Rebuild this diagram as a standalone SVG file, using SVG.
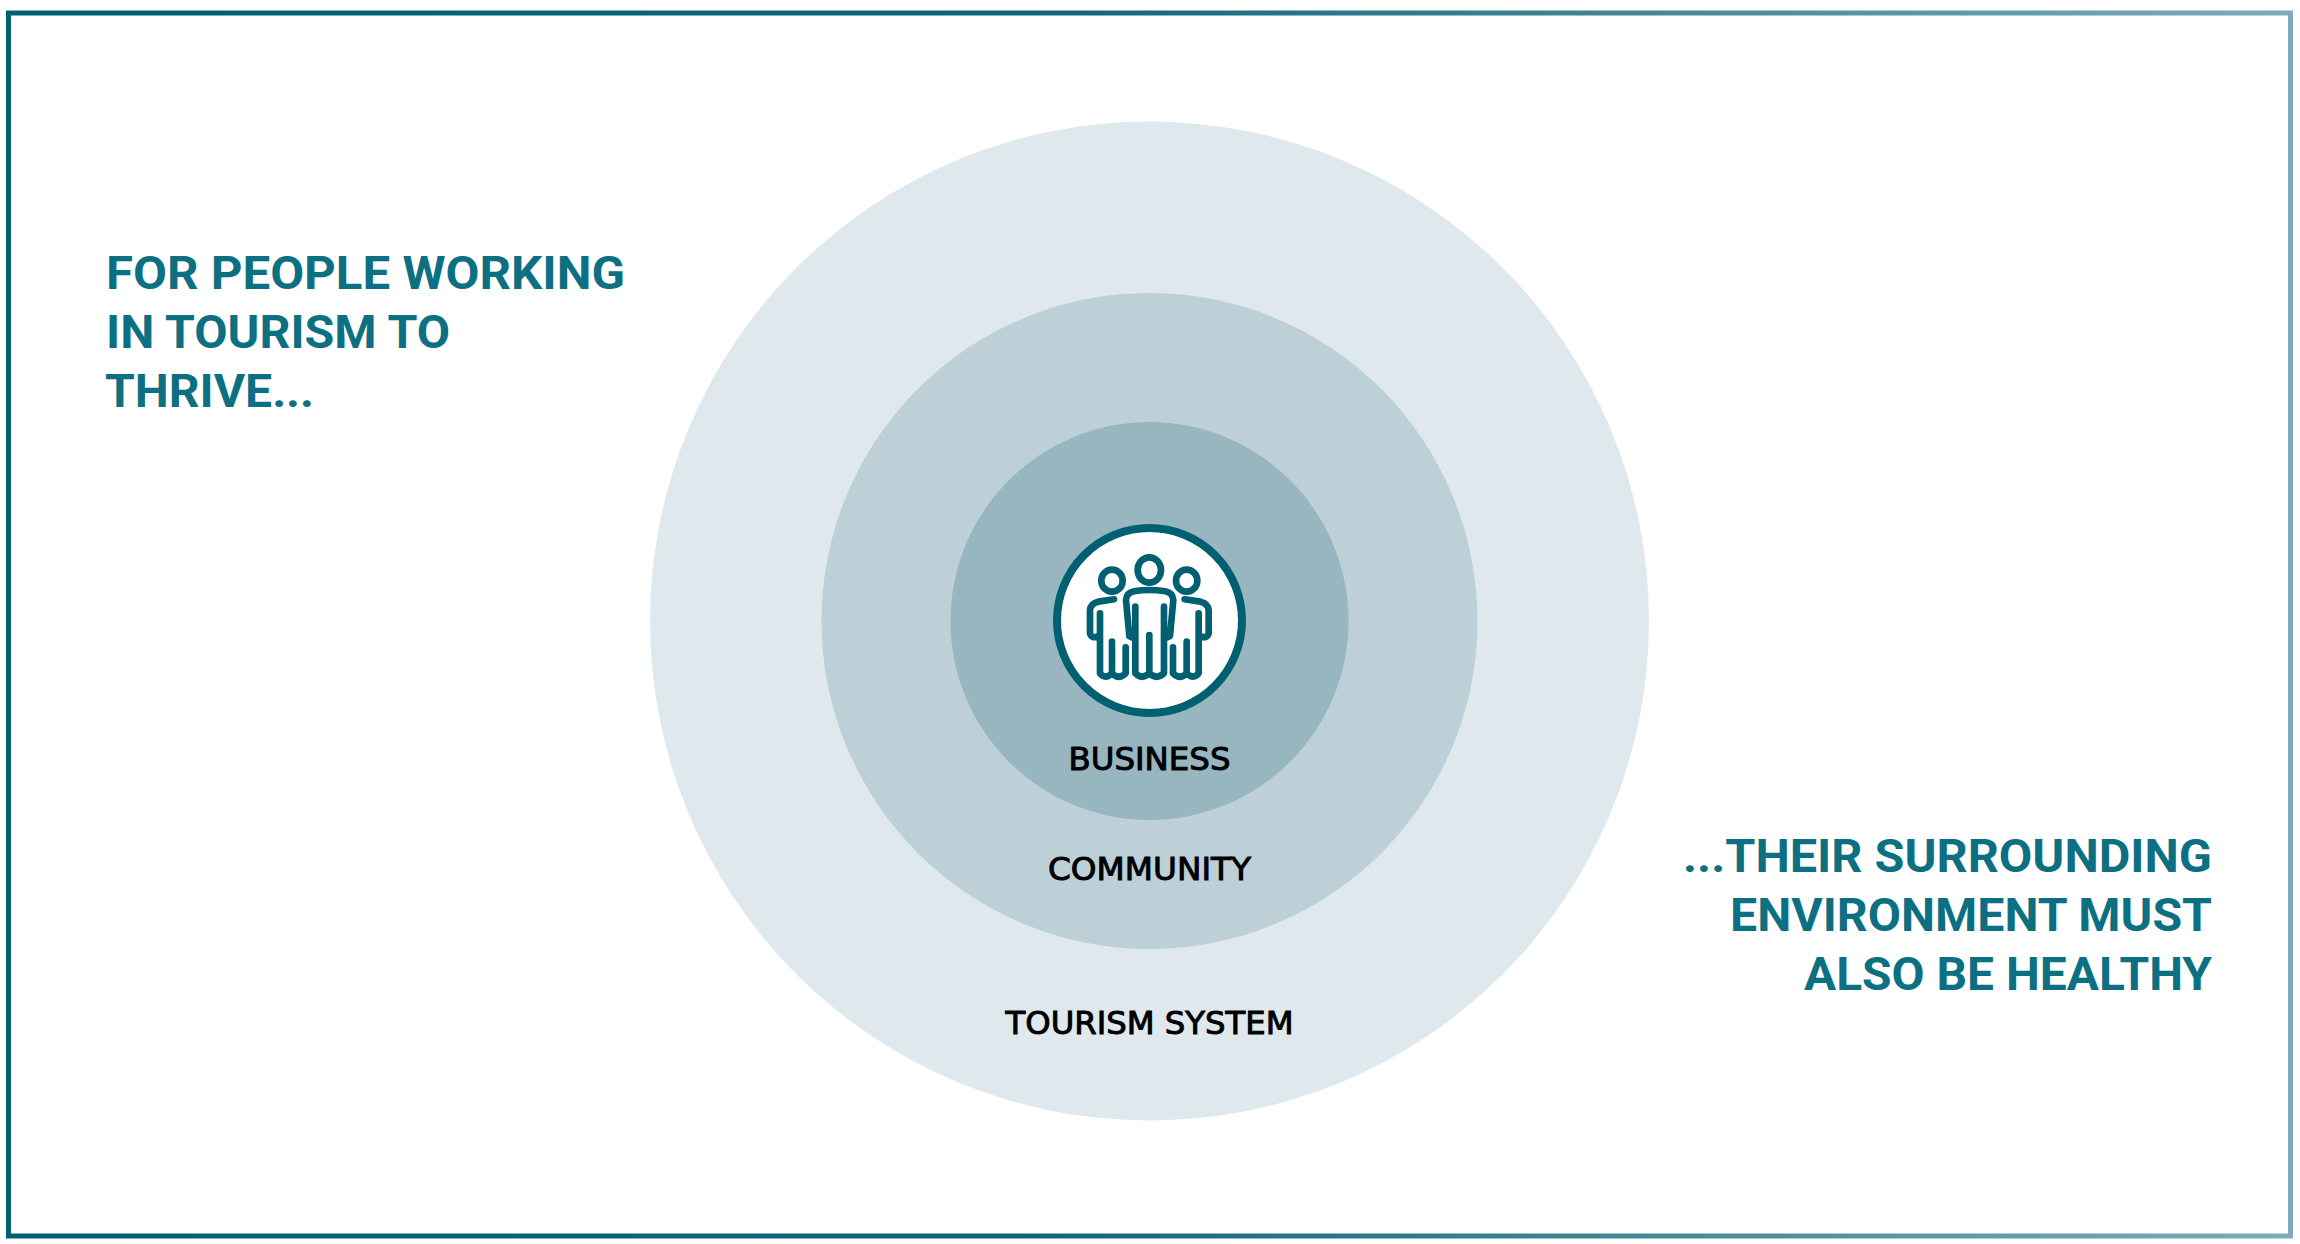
<svg xmlns="http://www.w3.org/2000/svg" width="2300" height="1244" viewBox="0 0 2300 1244">
<style>
.h{font-family:"Roboto","Liberation Sans",sans-serif;font-weight:700;font-size:46px;fill:#0d7082}
.l{font-family:"DejaVu Sans",sans-serif;font-weight:400;font-size:32px;fill:#000;stroke:#000;stroke-width:1px;text-anchor:middle}
.i{fill:none;stroke:#005f70;stroke-width:20;stroke-linecap:round;stroke-linejoin:round}
</style>
<defs>
<linearGradient id="bg" x1="0" y1="0" x2="1" y2="0"><stop offset="0" stop-color="#005f70"/><stop offset=".45" stop-color="#0f6677"/><stop offset="1" stop-color="#7bacb8"/></linearGradient>
<g id="side"><ellipse cx="246" cy="212" rx="32" ry="33"/><path d="M252 268L205 275Q182 280 180 300L180 370Q185 388 205 378M210 310L210 490Q225 510 246 490L246 395M246 490Q266 510 287 490L287 412"/></g>
</defs>
<rect width="2300" height="1244" fill="#fff"/>
<rect id="frame" x="8.5" y="13" width="2282" height="1223" fill="none" stroke="url(#bg)" stroke-width="5"/>
<g id="tourism-system"><circle cx="1149.5" cy="621" r="499.5" fill="#dfe9ed"/><text class="l" x="1149.5" y="1034" textLength="288" lengthAdjust="spacingAndGlyphs">TOURISM SYSTEM</text></g>
<g id="community"><circle cx="1149.5" cy="621" r="328" fill="#bdd0d7"/><text class="l" x="1149.5" y="880" textLength="203" lengthAdjust="spacingAndGlyphs">COMMUNITY</text></g>
<g id="business"><circle cx="1149.5" cy="621" r="199" fill="#97b6c0"/><text class="l" x="1149.5" y="770" textLength="162" lengthAdjust="spacingAndGlyphs">BUSINESS</text></g>
<g id="people"><circle cx="1149.5" cy="620.5" r="92.5" fill="#fff" stroke="#005f70" stroke-width="8"/>
<g class="i" transform="translate(1030 510) scale(.3333)">
<ellipse cx="358" cy="180" rx="35" ry="38"/>
<path d="M298 378L288 270Q290 248 312 244Q358 236 406 244Q428 248 430 270L420 378Q410 388 402 375M298 378Q308 388 316 372L316 290L316 490Q335 510 358 490L358 375M358 490Q380 510 402 490L402 290"/>
<use href="#side"/>
<use href="#side" transform="translate(716 0) scale(-1 1)"/>
</g></g>
<g id="left-text"><text class="h" x="106" y="289" textLength="519" lengthAdjust="spacingAndGlyphs">FOR PEOPLE WORKING</text><text class="h" x="106" y="348" textLength="344" lengthAdjust="spacingAndGlyphs">IN TOURISM TO</text><text class="h" x="105" y="407" textLength="209" lengthAdjust="spacingAndGlyphs">THRIVE...</text></g>
<g id="right-text"><text class="h" x="1683" y="872" textLength="529" lengthAdjust="spacingAndGlyphs">...THEIR SURROUNDING</text><text class="h" x="1730" y="931" textLength="482" lengthAdjust="spacingAndGlyphs">ENVIRONMENT MUST</text><text class="h" x="1804" y="990" textLength="408" lengthAdjust="spacingAndGlyphs">ALSO BE HEALTHY</text></g>
</svg>
